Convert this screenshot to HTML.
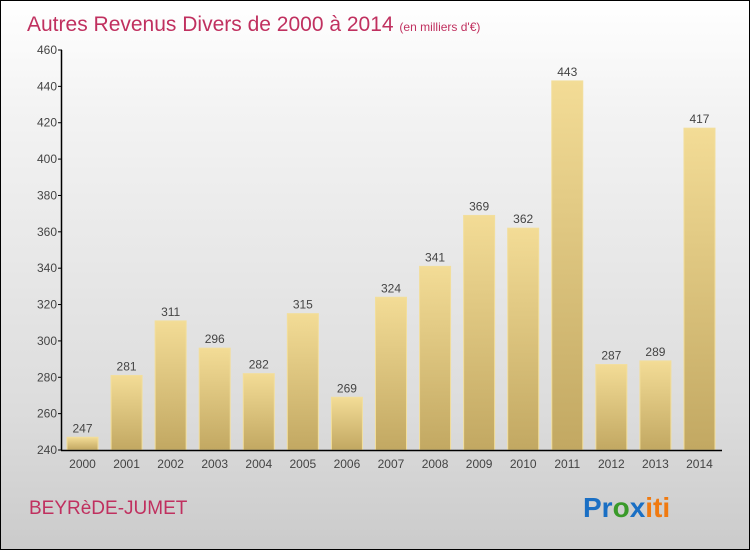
<!DOCTYPE html>
<html><head><meta charset="utf-8"><style>
body{margin:0}
#c{position:relative;width:748px;height:548px;border:1px solid #000;background:linear-gradient(#fff,#f3f3f3 20%,#dcdcdc 75%,#cbcbcb);font-family:"Liberation Sans",sans-serif;overflow:hidden}
</style></head><body>
<div id="c">
<svg width="748" height="548" style="position:absolute;left:0;top:0" id="svg">
<defs><linearGradient id="g" x1="0" y1="0" x2="0" y2="1"><stop offset="0" stop-color="#f3dc96"/><stop offset="1" stop-color="#c2a862"/></linearGradient></defs>
<text x="26" y="30" font-size="21" fill="#c0305f">Autres Revenus Divers de 2000 à 2014 <tspan font-size="12">(en milliers d'€)</tspan></text>
<text x="28" y="513" font-size="19" fill="#c0305f">BEYRèDE-JUMET</text>
<text x="582" y="516" font-size="28" font-weight="bold"><tspan fill="#1a6fc4">Pr</tspan><tspan fill="#3a9a2a">o</tspan><tspan fill="#1a6fc4">x</tspan><tspan fill="#f07a10">iti</tspan></text>
<g id="plot"></g>
</svg>
</div>
<script>
const years=["2000","2001","2002","2003","2004","2005","2006","2007","2008","2009","2010","2011","2012","2013","2014"];
const values=[247,281,311,296,282,315,269,324,341,369,362,443,287,289,417];
const yTicks=[240,260,280,300,320,340,360,380,400,420,440,460];
const NS="http://www.w3.org/2000/svg";
const g=document.getElementById('plot');
const y=v=>449-(v-240)*(400/220);
const x=i=>66+i*44.07;
function mk(t,a){const e=document.createElementNS(NS,t);for(const k in a)e.setAttribute(k,a[k]);g.appendChild(e);return e;}
values.forEach((v,i)=>{
 const r=mk('rect',{x:x(i),y:y(v),width:31,height:y(240)-y(v),fill:'url(#g)',stroke:'#f2de9c','stroke-width':1});
 
 
 const t=mk('text',{x:x(i)+15.5,y:y(v)-5,'font-size':12,'text-anchor':'middle',fill:'#444'});t.textContent=v;
 
 
 const l=mk('text',{x:x(i)+15.5,y:467,'font-size':12,'text-anchor':'middle',fill:'#444'});l.textContent=years[i];
 
 
});
yTicks.forEach(v=>{
 const tk=mk('line',{x1:57,x2:61,y1:y(v),y2:y(v),stroke:'#000'});
 
 
 const t=mk('text',{x:56,y:y(v)+4,'font-size':12,'text-anchor':'end',fill:'#444'});t.textContent=v;
 
 
});
const ya=mk('line',{x1:60.5,x2:60.5,y1:y(460),y2:y(240),stroke:'#000','stroke-width':1.5});


const xa=mk('line',{x1:60,x2:721,y1:y(240)+0.5,y2:y(240)+0.5,stroke:'#000','stroke-width':1.5});


</script>
</body></html>
